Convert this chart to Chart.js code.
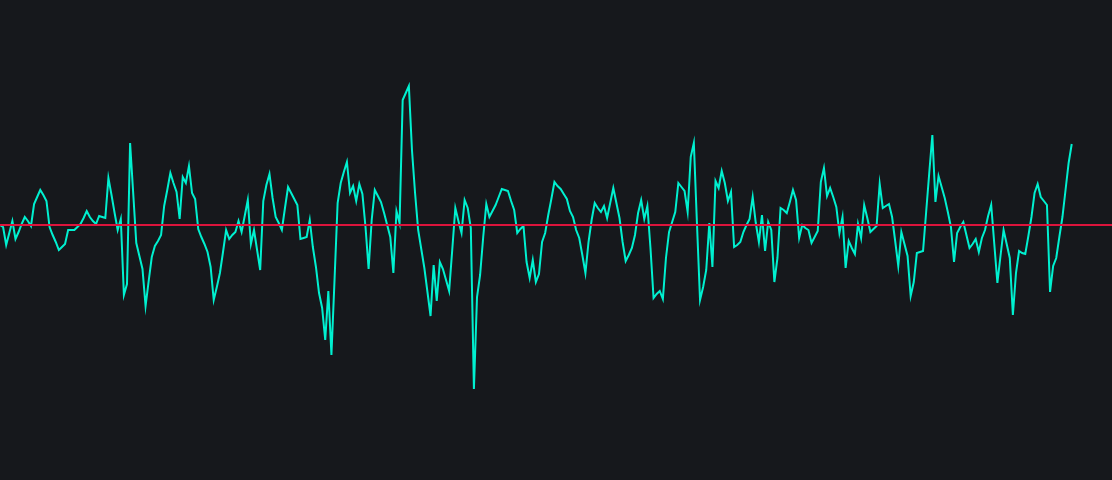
<!DOCTYPE html>
<html>
<head>
<meta charset="utf-8">
<script src="https://cdn.jsdelivr.net/npm/chart.js@4.4.1/dist/chart.umd.min.js"></script>
<style>
  html, body { margin: 0; padding: 0; background: #16181c; }
  #wrap { width: 1112px; height: 480px; position: relative; }
</style>
</head>
<body>
<div id="wrap"><canvas id="signal-chart"></canvas></div>
<script>
// signal samples (0 = baseline)
const sampleCount = 360;
const sampleLabels = Array.from({ length: sampleCount }, (_, i) => i);

const signalValues = [
  0, -2, -20, -8, 4, -14, -7, 1, 8, 4, -1, 21, 28, 35, 30, 24, -2, -10, -17, -25,
  -22, -19, -5, -5, -5, -2, 1, 7, 14, 8, 4, 1, 9, 8, 7, 47, 30, 12, -5, 6,
  -70, -59, 82, 32, -18, -31, -44, -81, -56, -32, -21, -16, -10, 19, 35, 52, 42, 33, 6, 48,
  42, 59, 32, 26, -4, -12, -19, -27, -42, -75, -62, -48, -27, -5, -14, -10, -7, 4, -7, 9,
  25, -19, -5, -25, -45, 24, 40, 51, 27, 8, 2, -5, 17, 38, 32, 26, 20, -14, -13, -12,
  5, -22, -42, -68, -83, -115, -66, -130, -55, 22, 42, 53, 63, 32, 39, 24, 41, 31, -2, -44,
  5, 35, 29, 23, 12, 0, -12, -48, 14, 2, 125, 132, 139, 75, 32, -5, -24, -43, -67, -91,
  -40, -76, -37, -44, -55, -66, -25, 17, 4, -8, 25, 17, -3, -164, -72, -50, -12, 21, 8, 14,
  20, 28, 36, 35, 34, 24, 15, -8, -4, -1, -37, -53, -35, -57, -49, -17, -8, 10, 26, 43,
  39, 36, 31, 26, 14, 8, -5, -13, -30, -48, -17, 5, 22, 17, 13, 19, 7, 22, 37, 22,
  7, -17, -36, -30, -23, -10, 12, 25, 6, 19, -23, -73, -69, -66, -74, -33, -7, 3, 13, 42,
  38, 34, 13, 68, 82, 2, -75, -62, -45, 2, -42, 44, 37, 54, 42, 24, 33, -22, -20, -17,
  -7, 0, 6, 28, 2, -17, 10, -26, 3, -5, -57, -33, 17, 15, 12, 23, 35, 25, -13, 0,
  -3, -5, -18, -12, -6, 43, 57, 29, 37, 28, 18, -8, 8, -43, -16, -23, -29, 1, -13, 20,
  7, -7, -4, -1, 41, 17, 19, 21, 8, -16, -41, -7, -19, -31, -71, -57, -28, -27, -26, 13,
  52, 90, 23, 49, 38, 27, 13, -2, -37, -8, -2, 3, -10, -23, -19, -14, -27, -13, -5, 9,
  20, -19, -58, -31, -5, -19, -33, -90, -48, -26, -28, -29, -11, 8, 32, 41, 28, 24, 20, -67,
  -41, -33, -12, 8, 35, 62, 81
];

const baselineValue = 0;
const yMin = -255;
const yMax = 225;

// baseline drawn on top of the trace
const baselinePlugin = {
  id: 'baseline',
  afterDatasetsDraw(chart) {
    const { ctx, chartArea, scales } = chart;
    const y = scales.y.getPixelForValue(baselineValue);
    ctx.save();
    ctx.strokeStyle = '#dc143c';
    ctx.lineWidth = 2;
    ctx.beginPath();
    ctx.moveTo(chartArea.left, y);
    ctx.lineTo(chartArea.right, y);
    ctx.stroke();
    ctx.restore();
  }
};

const signalCanvas = document.getElementById('signal-chart');
const signalChart = new Chart(signalCanvas, {
  type: 'line',
  data: {
    labels: sampleLabels,
    datasets: [{
      data: signalValues,
      borderColor: '#00f0d0',
      borderWidth: 2,
      pointRadius: 0,
      tension: 0,
      fill: false
    }]
  },
  options: {
    responsive: true,
    maintainAspectRatio: false,
    animation: false,
    layout: { padding: 0 },
    scales: {
      x: { display: false },
      y: { display: false, min: yMin, max: yMax }
    },
    plugins: {
      legend: { display: false },
      tooltip: { enabled: false }
    }
  },
  plugins: [baselinePlugin]
});
</script>
</body>
</html>
